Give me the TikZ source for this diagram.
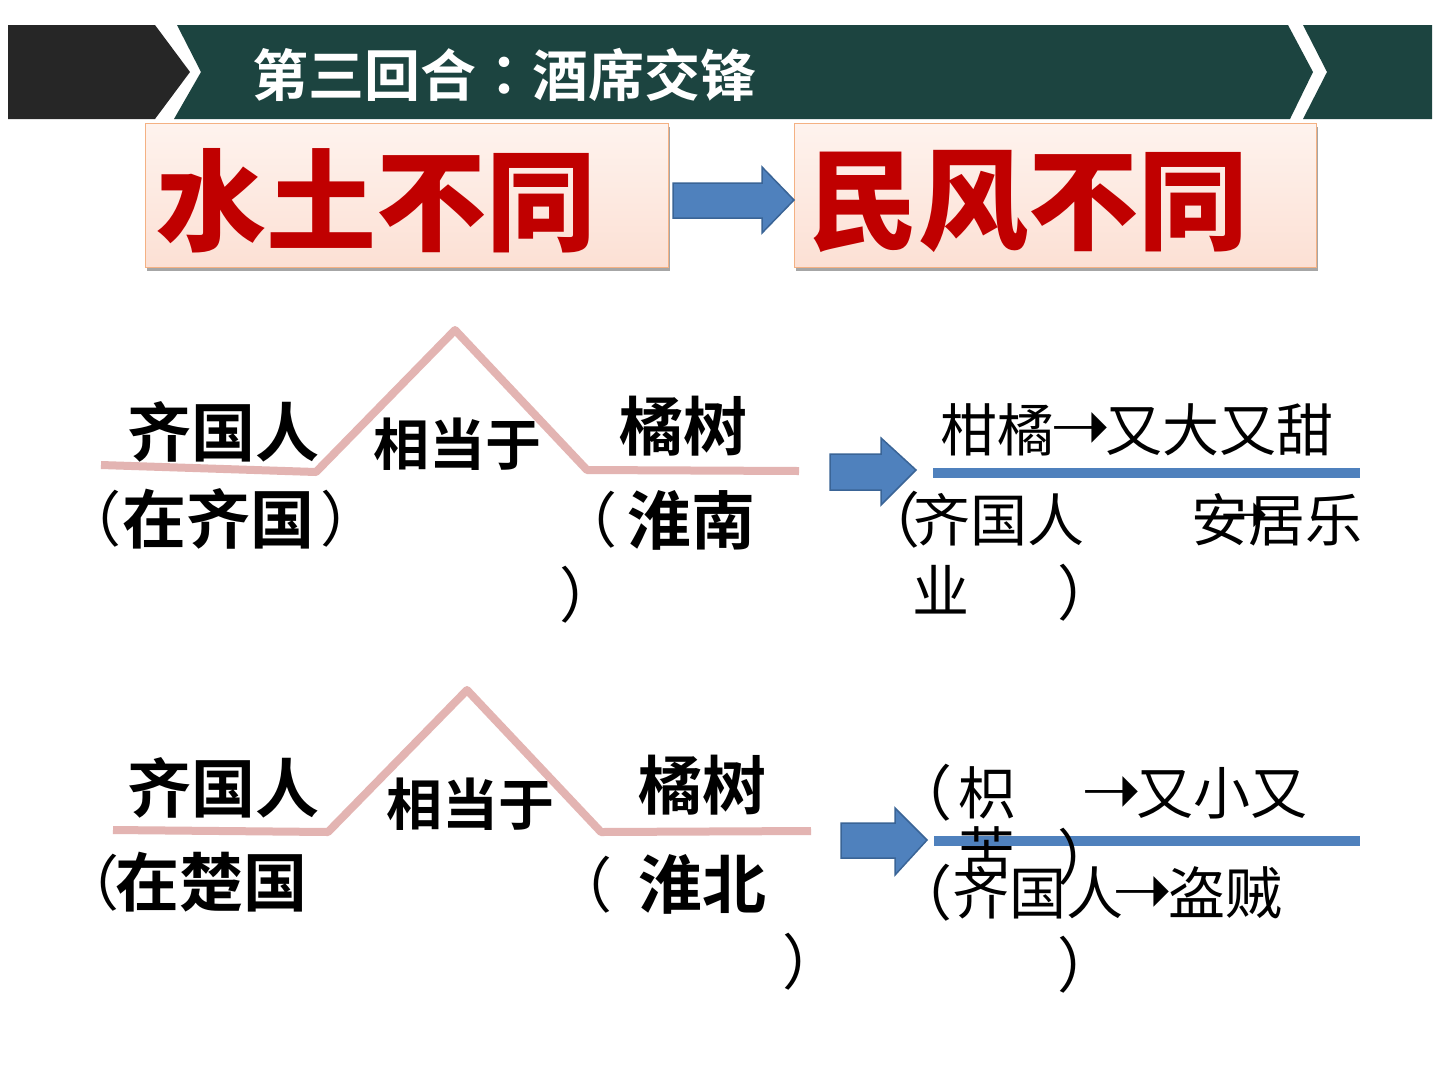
\documentclass[tikz,border=0pt]{standalone}
\usepackage{fontspec}
\newfontfamily\cjk{Noto Sans CJK SC}
\newfontfamily\cjkb{Noto Sans CJK SC Bold}
\newfontfamily\cjkk{Noto Sans CJK SC Black}
\newfontfamily\cjkjb{Noto Sans CJK JP Bold}
\newfontfamily\dejavu{DejaVu Sans}
\definecolor{hdrblack}{HTML}{262626}
\definecolor{hdrteal}{HTML}{1C4440}
\definecolor{boxfillA}{HTML}{FEF3EE}
\definecolor{boxfillB}{HTML}{FCE0D4}
\definecolor{boxline}{HTML}{F4B183}
\definecolor{boxshadow}{HTML}{A6A6A6}
\definecolor{bigred}{HTML}{C00000}
\definecolor{arrowblue}{HTML}{4F81BD}
\definecolor{arrowedge}{HTML}{3A6496}
\definecolor{rosy}{HTML}{E3B4B2}
\tikzset{
  bt/.style={inner sep=0pt, anchor=west, font=\cjkb\fontsize{64}{64}\selectfont},
  mt/.style={inner sep=0pt, anchor=west, font=\cjkb\fontsize{56}{56}\selectfont},
  rt/.style={inner sep=0pt, anchor=west, font=\cjk\fontsize{57}{57}\selectfont},
  arr/.style={inner sep=0pt, anchor=center, font=\dejavu\fontsize{72}{72}\selectfont},
  arrs/.style={inner sep=0pt, anchor=center, font=\dejavu\fontsize{58}{58}\selectfont},
  lpar/.style={inner sep=0pt, anchor=center, xshift=-15pt, font=\cjk\fontsize{60}{60}\selectfont},
  rpar/.style={inner sep=0pt, anchor=center, xshift=17pt, font=\cjk\fontsize{60}{60}\selectfont},
  bigt/.style={inner sep=0pt, anchor=west, text=bigred, font=\cjkk\fontsize{110}{110}\selectfont},
  blockarrow/.style={fill=arrowblue, draw=arrowedge, line width=1.5pt, line join=miter},
  rosyline/.style={draw=rosy, line width=8pt, line join=round},
  blueline/.style={draw=arrowblue, line width=10pt},
  pinkbox/.style={top color=boxfillA, bottom color=boxfillB, draw=boxline, line width=1pt},
}
\begin{document}
\begin{tikzpicture}[x=1pt,y=-1pt]
\useasboundingbox (0,0) rectangle (1440,1080);
\fill[white] (0,0) rectangle (1440,1080);

% header band
\fill[hdrblack] (8,25) -- (155,25) -- (190,72) -- (155,119) -- (8,119) -- cycle;
\fill[hdrteal] (177,25) -- (1288,25) -- (1313,72) -- (1290,119) -- (174,119) -- (201,72) -- cycle;
\fill[hdrteal] (1303,25) -- (1432,25) -- (1432,119) -- (1303,119) -- (1327,72) -- cycle;
\node[inner sep=0pt, anchor=west, text=white, font=\cjkb\fontsize{56}{56}\selectfont] (title) at (252,75) {第三回合{\cjkjb ：}酒席交锋};

% top boxes
\fill[boxshadow] (147,127) rectangle (670,271);
\path[pinkbox] (145,123) rectangle (668,267);
\fill[boxshadow] (796,127) rectangle (1318,271);
\path[pinkbox] (794,123) rectangle (1316,267);
\node[bigt] (water) at (156,201) {水土不同};
\node[bigt] (folk) at (808,201) {民风不同};
\path[blockarrow] (673,183) -- (762,183) -- (762,167) -- (794,200) -- (762,233) -- (762,218) -- (673,218) -- cycle;

% section 1
\draw[rosyline] (101,465) -- (316,472) -- (455,330) -- (587,470) -- (799,471);
\node[bt] (qa) at (127,432) {齐国人};
\node[mt] (xa) at (373,444) {相当于};
\node[bt] (ja) at (619,426) {橘树};
\node[lpar] (pa1) at (106,519) {（};
\node[bt] (za) at (122,519) {在齐国};
\node[rpar] (pa2) at (333,519) {）};
\node[lpar] (pa3) at (602,520) {（};
\node[bt] (ha) at (627,520) {淮南};
\node[rpar] (pa4) at (572,595) {）};

\path[blockarrow] (830,454) -- (881,454) -- (881,438) -- (916,470) -- (881,505) -- (881,490) -- (830,490) -- cycle;
\draw[blueline] (933,473) -- (1360,473);
\node[rt] (ga) at (940,430) {柑橘};
\node[arr] (gaa) at (1081,432) {➝};
\node[rt] (gb) at (1105,430) {又大又甜};
\node[lpar] (pa5) at (905,520) {（};
\node[rt] (qb) at (913,520) {齐国人};
\node[rt] (aa) at (1191,520) {安居乐};
\node[arrs] (arra) at (1245,518) {➝};
\node[rt] (ya) at (912,590) {业};
\node[rpar] (pa6) at (1070,593) {）};

% section 2
\draw[rosyline] (113,830) -- (328,832) -- (467,690) -- (601,832) -- (811,831);
\node[bt] (qc) at (127,788) {齐国人};
\node[mt] (xb) at (386,804) {相当于};
\node[bt] (jb) at (638,785) {橘树};
\node[lpar] (pb1) at (104,883) {（};
\node[bt] (zb) at (115,882) {在楚国};
\node[lpar] (pb3) at (597,885) {（};
\node[bt] (hb) at (638,884) {淮北};
\node[rpar] (pb4) at (795,962) {）};

\path[blockarrow] (841,823) -- (895,823) -- (895,808) -- (927,840) -- (895,875) -- (895,858) -- (841,858) -- cycle;
\draw[blueline] (934,841) -- (1360,841);
\node[lpar] (pb5) at (937,793) {（};
\node[rt] (zhi) at (958,793) {枳};
\node[arr] (zarr) at (1112,795) {➝};
\node[rt] (xs) at (1136,793) {又小又};
\node[rt] (ku) at (958,853) {苦};
\node[rpar] (pb6) at (1070,857) {）};
\node[lpar] (pb7) at (937,893) {（};
\node[rt] (qd) at (952,893) {齐国人};
\node[arr] (qarr) at (1143,895) {➝};
\node[rt] (dz) at (1168,893) {盗贼};
\node[rpar] (pb8) at (1070,965) {）};
\end{tikzpicture}
\end{document}
